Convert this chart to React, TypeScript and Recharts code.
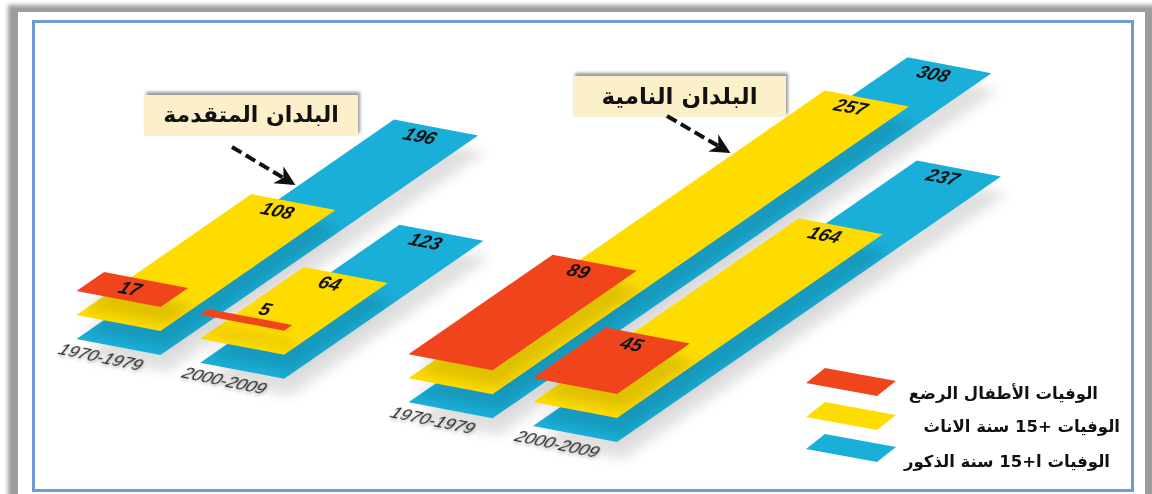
import { BarChart, Bar, XAxis, YAxis, Legend } from "recharts";

const periods = ["1970-1979", "2000-2009", "1970-1979", "2000-2009"];
// where each period sits along the depth axis, the gap after the second one splits the two country groups
const slots = [0.5, 1.96, 4.42, 5.89];
const maleDeaths = [196, 123, 308, 237];
const femaleDeaths = [108, 64, 257, 164];
const infantDeaths = [17, 5, 89, 45];
const seriesNames = [
  "الوفيات ا+15 سنة الذكور",
  "الوفيات +15 سنة الاناث",
  "الوفيات الأطفال الرضع",
];

const BLUE = "#1AAFD8";
const YELLOW = "#FFDC00";
const RED = "#F0451C";

const W = 1152;
const H = 494;
const BAR_SIZE = 70;
const AXIS_WIDTH = 1; // the axis draws nothing at width 0

const rows = periods.map((period, i) => ({
  period,
  slot: slots[i],
  male: maleDeaths[i],
  female: femaleDeaths[i],
  infant: infantDeaths[i],
}));

// flat chart -> tilted page
const project = (x: number, y: number): [number, number] => [
  75.6 + 1.62 * (x - AXIS_WIDTH) + 1.2 * y,
  338.9 - 1.12 * (x - AXIS_WIDTH) + (16 / 70) * y,
];

const poly = (pts: [number, number][], dx = 0, dy = 0) =>
  pts.map(([a, b]) => `${a + dx},${b + dy}`).join(" ");

function tiltedBar(dataKey: string, lift: number) {
  return function TiltedBar(props: any) {
    const { x, y, width, height, payload, fill } = props;
    const value = payload[dataKey];
    const corners: [number, number][] = [
      project(x, y),
      project(x + width, y),
      project(x + width, y + height),
      project(x, y + height),
    ].map(([a, b]) => [a, b + lift] as [number, number]);
    const [bx, by] = corners[1];
    // thin bars cannot hold their number, it goes just past the end
    const lx = value < 10 ? bx + 57 : bx + 26;
    const ly = value < 10 ? by : by + 16.5;
    return (
      <g>
        <polygon points={poly(corners, 7, 17)} fill="#000" fillOpacity={0.12} filter="url(#soft)" />
        <polygon points={poly(corners)} fill={fill} />
        <text
          transform={`matrix(1.1 0.2 -0.5 1 ${lx} ${ly})`}
          textAnchor="middle"
          dominantBaseline="central"
          fontFamily="Liberation Sans"
          fontStyle="italic"
          fontWeight="bold"
          fontSize={17}
          fill="#111"
        >
          {value}
        </text>
      </g>
    );
  };
}

function PeriodTick(props: any) {
  const { y, index } = props;
  const [fx, fy] = project(AXIS_WIDTH, y - BAR_SIZE / 2);
  return (
    <text
      transform={`matrix(1.15 0.24 -0.55 1 ${fx + 25} ${fy + 18})`}
      textAnchor="middle"
      dominantBaseline="central"
      fontFamily="Liberation Sans"
      fontStyle="italic"
      fontSize={15}
      fill="#222"
      filter="url(#tickShadow)"
    >
      {periods[index]}
    </text>
  );
}

const legendRows = [
  { top: 368, textRight: 1098, textY: 393 },
  { top: 402, textRight: 1120, textY: 426 },
  { top: 434, textRight: 1110, textY: 461 },
];

function TiltedLegend({ payload }: any) {
  const items = [...(payload || [])].reverse();
  return (
    <svg width={W} height={H} style={{ display: "block" }}>
      {items.map((item: any, i: number) => {
        const r = legendRows[i];
        return (
          <g key={item.value}>
            <polygon
              points={poly([
                [806, r.top + 15],
                [825, r.top],
                [896, r.top + 13],
                [877, r.top + 28],
              ])}
              fill={item.color}
            />
            <text
              x={r.textRight}
              y={r.textY}
              direction="rtl"
              textAnchor="start"
              dominantBaseline="central"
              fontFamily="DejaVu Sans"
              fontWeight="bold"
              fontSize={16.5}
              fill="#111"
            >
              {item.value}
            </text>
          </g>
        );
      })}
    </svg>
  );
}

function Callout({ left, top, width, text, size }: any) {
  return (
    <div
      dir="rtl"
      style={{
        position: "absolute",
        left,
        top,
        width,
        height: 41,
        background: "#FBF0C9",
        boxShadow: "2px -3px 3px #999",
        textAlign: "center",
        lineHeight: "40px",
        fontFamily: "DejaVu Sans",
        fontWeight: "bold",
        fontSize: size,
        color: "#111",
      }}
    >
      {text}
    </div>
  );
}

function DashedArrow({ x1, y1, x2, y2 }: any) {
  return (
    <line
      x1={x1}
      y1={y1}
      x2={x2}
      y2={y2}
      stroke="#111"
      strokeWidth={4}
      strokeDasharray="11 5"
      markerEnd="url(#head)"
    />
  );
}

export default function App() {
  return (
    <div
      style={{
        position: "absolute",
        left: 0,
        top: 0,
        width: W,
        height: H,
        overflow: "hidden",
        background: "#fff",
        filter: "blur(0.4px)",
      }}
    >
      {/* page frame */}
      <div style={{ position: "absolute", left: 8, top: 5, width: 1160, height: 510, background: "#9c9c9c", filter: "blur(2px)" }} />
      <div style={{ position: "absolute", left: 18, top: 12, width: 1127, height: 490, background: "#fff" }} />
      <div
        style={{
          position: "absolute",
          left: 32,
          top: 20,
          width: 1096,
          height: 466,
          border: "3px solid #6E9BD6",
          background: "#fff",
        }}
      />

      <div style={{ position: "absolute", left: 0, top: 0 }}>
        <BarChart
          width={W}
          height={H}
          data={rows}
          layout="vertical"
          barSize={BAR_SIZE}
          barGap={-BAR_SIZE}
          margin={{ top: 0, right: 0, bottom: 0, left: 0 }}
        >
          <defs>
            <filter id="soft" filterUnits="userSpaceOnUse" x={0} y={0} width={W} height={H}>
              <feGaussianBlur stdDeviation={6} />
            </filter>
            <filter id="tickShadow" x="-20%" y="-50%" width="140%" height="220%">
              <feDropShadow dx={1} dy={2} stdDeviation={1.5} floodColor="#000" floodOpacity={0.25} />
            </filter>
          </defs>
          <XAxis type="number" domain={[0, W - AXIS_WIDTH]} hide />
          <YAxis
            type="number"
            dataKey="slot"
            domain={[0, 7]}
            ticks={slots}
            interval={0}
            width={AXIS_WIDTH}
            axisLine={false}
            tickLine={false}
            tick={<PeriodTick />}
          />
          <Legend
            layout="horizontal"
            verticalAlign="middle"
            align="center"
            itemSorter={null}
            content={<TiltedLegend />}
            wrapperStyle={{ position: "absolute", left: 0, top: 0, width: W, height: H, pointerEvents: "none" }}
          />
          <Bar dataKey="male" name={seriesNames[0]} fill={BLUE} isAnimationActive={false} shape={tiltedBar("male", 0)} />
          <Bar dataKey="female" name={seriesNames[1]} fill={YELLOW} isAnimationActive={false} shape={tiltedBar("female", -24)} />
          <Bar dataKey="infant" name={seriesNames[2]} fill={RED} isAnimationActive={false} shape={tiltedBar("infant", -48)} />
        </BarChart>
      </div>

      <Callout left={144} top={95} width={214} text="البلدان المتقدمة" size={22} />
      <Callout left={573} top={76} width={213} text="البلدان النامية" size={23} />

      <svg width={W} height={H} style={{ position: "absolute", left: 0, top: 0, pointerEvents: "none" }}>
        <defs>
          <marker id="head" viewBox="0 0 10 10" refX={8} refY={5} markerWidth={5} markerHeight={5} orient="auto">
            <path d="M0 0 L10 5 L0 10 L3 5 Z" fill="#111" />
          </marker>
        </defs>
        <DashedArrow x1={232} y1={147} x2={292} y2={183} />
        <DashedArrow x1={667} y1={116} x2={727} y2={151} />
      </svg>
    </div>
  );
}
